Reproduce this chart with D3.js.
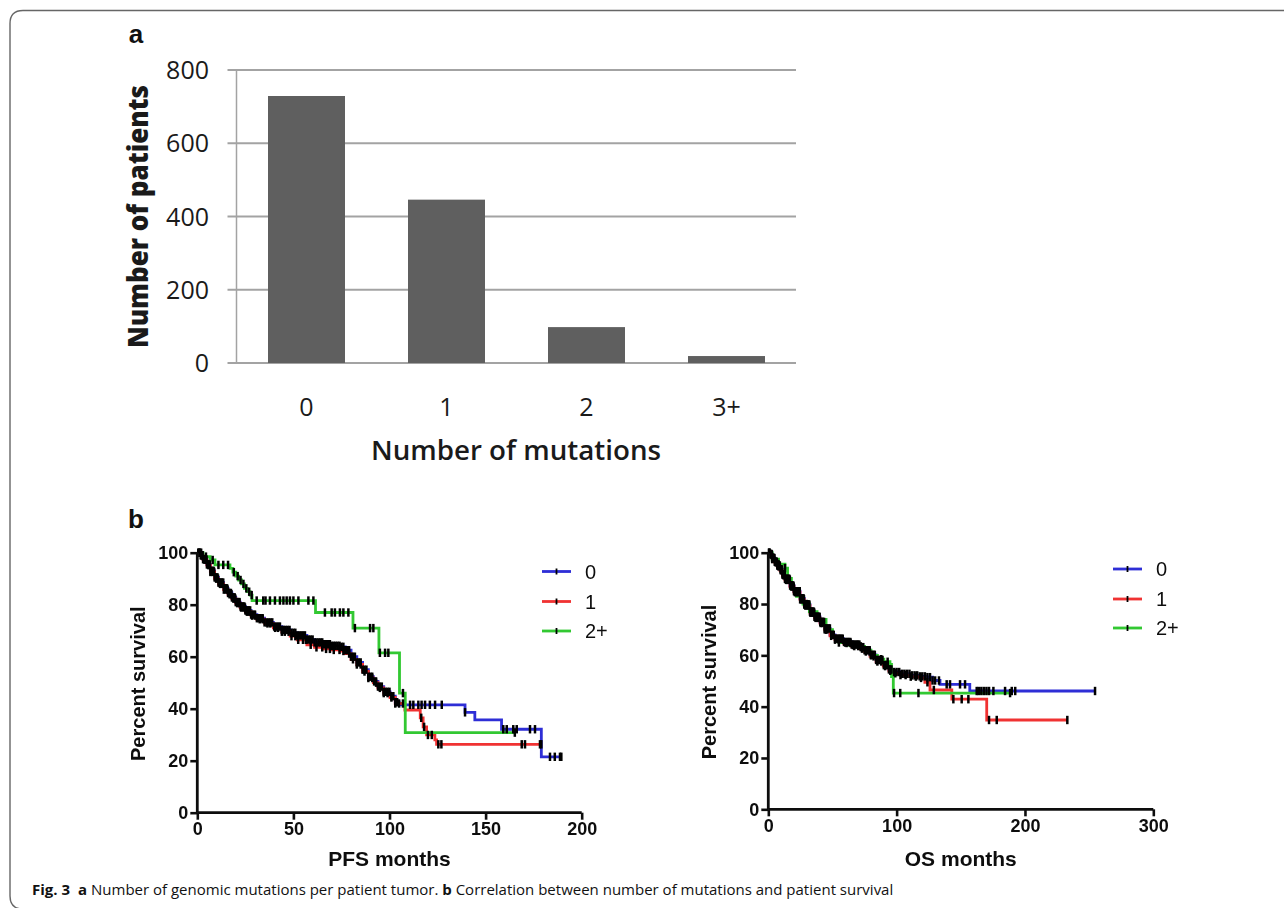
<!DOCTYPE html>
<html>
<head>
<meta charset="utf-8">
<script src="https://cdn.jsdelivr.net/npm/d3@7"></script>
<style>
  html, body { margin: 0; padding: 0; background: #fff; }
  svg { display: block; }
</style>
</head>
<body>
<svg id="fig" width="1284" height="908"></svg>
<script>
// ---- Panel a: patients by number of mutations ----
const barCategories = ["0", "1", "2", "3+"];
const barValues = [729, 446, 98, 19];
const barTicks = [0, 200, 400, 600, 800];

// ---- Panel b: Kaplan–Meier curves, [months, percent surviving] ----
const groupNames = ["0", "1", "2+"];

const pfsSteps0 = [[0,100],[1.6,99],[3,97.5],[5,95.5],[6.8,93],[9,90.5],[11,88.5],[13.7,86.3],[16,84.5],[18,82.8],[20,81],[22.3,79.3],[25,77.8],[28,76.2],[31,74.8],[35,73.2],[39.6,71.6],[44,70.3],[48.3,69.2],[52,68.2],[57,66.6],[61,65.5],[65.6,64.8],[70,64.2],[74.3,63.8],[77,62.5],[80,60],[83,57.8],[86,55],[89,52.3],[91.6,50.5],[94,48.5],[97,46.5],[100.3,44.8],[103,42.5],[105,41.5],[139.3,38.6],[144.4,35.7],[158.3,32.1],[179,21.5],[189.4,21.5]];
const pfsSteps1 = [[0,100],[1.6,99],[3,97.3],[5,95.2],[6.8,92.6],[9,90],[11,88],[13.7,85.8],[16,84],[18,82.3],[20,80.6],[22.3,78.9],[25,77.3],[28,75.8],[31,74.4],[35,72.8],[39.6,71.1],[44,69.6],[48.3,67.9],[52,66.5],[57,64.6],[61,63.6],[65.6,63],[70,62.6],[74.3,62.2],[77,61.2],[80,59],[83,57],[86,54.3],[89,51.8],[91.6,50],[94,48],[97,46],[100.3,44.3],[103,42],[108,39.5],[116,36.5],[117.5,33],[119.3,29.9],[123.6,28],[124.5,26.3],[179,26.3]];
const pfsSteps2 = [[0,100],[3,98.5],[6.7,97.2],[9.2,95.3],[17,94],[18.5,92.5],[20,91],[21.5,89.5],[23,88],[24.5,86.3],[26,85],[27.5,83.7],[28.5,81.6],[61.5,77],[81,71],[94.5,61.5],[105.2,46],[108.2,30.8],[165.2,30.8]];

const pfsCensor0 = [0.5,1,1.5,2,2.5,3,3.5,4,4.5,5,5.5,6,6.5,7,7.5,8,8.5,9,9.5,10,10.5,11,11.5,12,12.5,13,13.5,14,14.5,15,15.5,16,16.5,17,17.5,18,18.5,19,19.5,20,20.5,21,21.5,22,22.5,23,23.5,24,24.5,25,25.5,26,26.5,27,27.5,28,29,30,31,32,33,34,35,36,37,38,39,40,41,42,43,44,45,46,47,48,49,50,51,52,53,54,55,56,57,58,59,60,61,62,63,64,65,66,67,68,69,70,71,72,73,74,75,76,77,78,79,80,81,82,83,84,85,86,87,88,89,90,91,92,93,94,95,96,97,98,99,100,101,102,103,104,110.7,112.4,115,116.7,118.5,121,123.7,127.2,139.3,159.2,161,164.4,166.2,173.1,175.7,183.5,186,188.7,189.4];
const pfsCensor1 = [0.8,1.8,2.8,3.8,4.8,5.8,6.8,7.8,8.8,9.8,10.8,11.8,12.8,13.8,14.8,15.8,16.8,17.8,18.8,19.8,20.8,21.8,22.8,23.8,24.8,25.8,26.8,28.5,30,32.5,34,36.5,38,40.5,42,44,45.5,47.5,49,51,52.5,55,56.5,59,62,65,67,69,71,74,76,79,81,83,85,87,89,91,93,95,97,99,101,103,105,107,116.5,118,120,122,125.4,127,168.8,170.5,178.3,179];
const pfsCensor2 = [2,4.5,8,11,13.5,16,19,21,22.5,24,25.5,27,28.3,30.9,34.3,35.5,37.8,40.4,43,44.8,46.5,48.2,50,52.6,57.8,60.4,66.4,69.9,71.6,74.2,76,78.6,82,89.9,91.6,95,97.7,99.4,107,165.2];

const osSteps0 = [[0,100],[1.3,99.5],[3,98],[5,96.5],[7,95],[9.1,93.5],[11,91.5],[13,89.8],[16.9,87.2],[20,85],[24.7,82.2],[28,79.8],[32.5,77],[36,75],[40.3,73],[44,70.5],[48.1,68],[52,66.5],[58.5,65.2],[65,64.2],[71.5,63.2],[75,62],[79.3,60.2],[84,58.2],[89.6,56.2],[94,54.5],[97.4,53.5],[103,52.8],[110.4,52.2],[118,51.8],[123.5,51.5],[128,50.2],[133.8,48.7],[157,46.1],[254.6,46.1]];
const osSteps1 = [[0,100],[1.3,99.3],[3,97.8],[5,96.2],[7,94.7],[9.1,93.1],[11,91.2],[13,89.4],[16.9,86.8],[20,84.6],[24.7,81.8],[28,79.4],[32.5,76.6],[36,74.6],[40.3,72.6],[44,70.1],[48.1,67.6],[52,66.1],[58.5,64.8],[65,63.6],[71.5,62.6],[75,61.5],[79.3,59.6],[84,57.6],[89.6,55.8],[94,54],[97.4,53],[103,52.3],[110.4,51.7],[118,51.2],[122,49.5],[126,46.5],[143,42.9],[170.2,34.8],[233,34.8]];
const osSteps2 = [[0,100],[3,97.5],[8,95.5],[13,94],[15,90],[18,86],[22,83],[27,80],[32,77],[38,74],[45,70],[50,67],[55,65],[62,64],[70,63.5],[75,62],[80,60],[85,58.5],[90,57.5],[94.8,56.5],[96,51.7],[97.4,45.3],[188.4,45.3]];

const osCensor0 = [0.5,1,1.5,2,2.5,3,3.5,4,4.5,5,5.5,6,6.5,7,7.5,8,8.5,9,9.5,10,10.5,11,11.5,12,12.5,13,13.5,14,14.5,15,15.5,16,16.5,17,17.5,18,18.5,19,19.5,20,20.5,21,21.5,22,22.5,23,23.5,24,24.5,25,25.5,26,26.5,27,27.5,28,28.5,29,29.5,30,30.5,31,31.5,32,32.5,33,33.5,34,34.5,35,35.5,36,36.5,37,37.5,38,38.5,39,39.5,40,40.5,41,41.5,42,42.5,43,43.5,44,45,46,47,48,49,50,51,52,53,54,55,56,57,58,59,60,61,62,63,64,65,66,67,68,69,70,71,72,73,74,75,76,77,78,79,80,81,82,83,84,85,86,87,88,89,90,91,92,93,94,95,96,98,100,102,104,106,108,110,112,114,116,118,120,122,124,126,128,130,133,139,141.6,149.4,153.3,162.4,164,166,168,170,172,175.4,184.5,189.7,192.4,254.6];
const osCensor1 = [0.8,1.8,2.8,3.8,4.8,5.8,6.8,7.8,8.8,9.8,10.8,11.8,12.8,13.8,14.8,15.8,16.8,17.8,18.8,19.8,20.8,21.8,22.8,23.8,24.8,25.8,26.8,27.8,28.8,29.8,30.8,31.8,32.8,33.8,34.8,35.8,36.8,37.8,38.8,39.8,40.8,42,44,46,49,52,55,58,61,64,67,70,73,76,79,82,85,88,91,95,99,103,107,111,115,119,124,129,144.2,150.7,155.9,172,178,233];
const osCensor2 = [3,8,13,20,30,45,55,60,66,72,80,88,93,98,102.8,117,188.4];

const pctTicks = [0, 20, 40, 60, 80, 100];
const pfsTicks = [0, 50, 100, 150, 200];
const osTicks = [0, 100, 200, 300];

const groupColors = ["#2f2fd6", "#f03030", "#30c830"];

const svg = d3.select("#fig");

// Outer figure frame with a rounded corner
svg.append("path")
  .attr("d", "M1300,10.5 H23 Q10,10.5 10,23.5 V896 Q10,909 23,909 H1300")
  .attr("fill", "none").attr("stroke", "#666").attr("stroke-width", 1.4);

// ================= Panel a =================
const barFont = "'Open Sans', 'DejaVu Sans', sans-serif";
const xBar = d3.scaleBand().domain(barCategories).range([236.5, 796.5])
  .paddingInner(0.45).paddingOuter(0.225);
const yBar = d3.scaleLinear().domain([0, 800]).range([363, 70]);

const gA = svg.append("g");
gA.selectAll("line.grid").data(barTicks).join("line")
  .attr("class", "grid")
  .attr("x1", 227.5).attr("x2", 796)
  .attr("y1", d => yBar(d)).attr("y2", d => yBar(d))
  .attr("stroke", "#a3a3a3").attr("stroke-width", 2);
gA.append("line")
  .attr("x1", 236.5).attr("x2", 236.5).attr("y1", yBar(800)).attr("y2", yBar(0))
  .attr("stroke", "#a3a3a3").attr("stroke-width", 1.5);

gA.selectAll("rect.bar").data(barValues).join("rect")
  .attr("class", "bar")
  .attr("x", (d, i) => xBar(barCategories[i]))
  .attr("width", xBar.bandwidth())
  .attr("y", d => yBar(d))
  .attr("height", d => yBar(0) - yBar(d))
  .attr("fill", "#5f5f5f");

gA.selectAll("text.ytick").data(barTicks).join("text")
  .attr("class", "ytick")
  .attr("x", 209).attr("y", d => yBar(d))
  .attr("dy", "0.36em").attr("text-anchor", "end")
  .attr("font-family", barFont).attr("font-size", 25).attr("fill", "#1a1a1a")
  .text(d => d);

gA.selectAll("text.xtick").data(barCategories).join("text")
  .attr("class", "xtick")
  .attr("x", d => xBar(d) + xBar.bandwidth() / 2).attr("y", 407)
  .attr("dy", "0.36em").attr("text-anchor", "middle")
  .attr("font-family", barFont).attr("font-size", 25).attr("fill", "#1a1a1a")
  .text(d => d);

gA.append("text")
  .attr("x", 516).attr("y", 450).attr("dy", "0.36em").attr("text-anchor", "middle")
  .attr("font-family", barFont).attr("font-size", 27).attr("font-weight", 600)
  .attr("fill", "#1a1a1a").attr("textLength", 290).attr("lengthAdjust", "spacingAndGlyphs")
  .text("Number of mutations");

gA.append("text")
  .attr("transform", "translate(138,216.5) rotate(-90)")
  .attr("dy", "0.36em").attr("text-anchor", "middle")
  .attr("font-family", barFont).attr("font-size", 28).attr("font-weight", 800)
  .attr("fill", "#1a1a1a").attr("textLength", 263).attr("lengthAdjust", "spacingAndGlyphs")
  .text("Number of patients");

svg.append("text").attr("x", 136).attr("y", 34).attr("dy", "0.36em")
  .attr("text-anchor", "middle")
  .attr("font-family", "'Liberation Sans', Arial, sans-serif")
  .attr("font-size", 26).attr("font-weight", 700).attr("fill", "#111").text("a");
svg.append("text").attr("x", 136).attr("y", 519).attr("dy", "0.36em")
  .attr("text-anchor", "middle")
  .attr("font-family", "'Liberation Sans', Arial, sans-serif")
  .attr("font-size", 26).attr("font-weight", 700).attr("fill", "#111").text("b");

// ================= Panel b =================
const kmFont = "'Liberation Sans', Arial, sans-serif";

// soft edges of the survival plots
const defs = svg.append("defs");
defs.append("filter").attr("id", "soft")
  .append("feGaussianBlur").attr("stdDeviation", 0.45);

function survivalAt(steps, t) {
  const i = d3.bisector(d => d[0]).right(steps, t) - 1;
  return steps[Math.max(0, i)][1];
}

function kmPanel(cfg) {
  const x = d3.scaleLinear().domain(cfg.xDomain).range(cfg.xRange);
  const y = d3.scaleLinear().domain([0, 100]).range(cfg.yRange);
  const g = svg.append("g").attr("filter", "url(#soft)");

  const line = d3.line().x(d => x(d[0])).y(d => y(d[1])).curve(d3.curveStepAfter);
  cfg.steps.forEach((s, i) => {
    g.append("path").datum(s).attr("d", line)
      .attr("fill", "none").attr("stroke", groupColors[i]).attr("stroke-width", 2.8);
  });
  cfg.censor.forEach((c, i) => {
    g.selectAll(null).data(c).join("line")
      .attr("x1", t => x(t)).attr("x2", t => x(t))
      .attr("y1", t => y(survivalAt(cfg.steps[i], t)) - 4.2)
      .attr("y2", t => y(survivalAt(cfg.steps[i], t)) + 4.2)
      .attr("stroke", "#000").attr("stroke-width", 2.5);
  });

  const xAxis = d3.axisBottom(x).tickValues(cfg.xTicks).tickSize(7).tickPadding(3);
  const yAxis = d3.axisLeft(y).tickValues(pctTicks).tickSize(7).tickPadding(2);
  const gx = g.append("g").attr("transform", `translate(0,${cfg.yRange[0]})`).call(xAxis);
  const gy = g.append("g").attr("transform", `translate(${cfg.xRange[0]},0)`).call(yAxis);
  [gx, gy].forEach(a => {
    a.select(".domain").attr("stroke", "#111").attr("stroke-width", 2.8);
    a.selectAll(".tick line").attr("stroke", "#111").attr("stroke-width", 2.6);
    a.selectAll(".tick text").attr("font-family", kmFont).attr("font-size", 18)
      .attr("font-weight", 700).attr("fill", "#111");
  });
  gx.select(".domain").attr("d", `M${cfg.xRange[0]},0H${cfg.xRange[1]}`);
  gy.select(".domain").attr("d", `M0,${cfg.yRange[0]}V${cfg.yRange[1]}`);

  g.append("text")
    .attr("transform", `translate(${cfg.yTitleX},${(cfg.yRange[0] + cfg.yRange[1]) / 2 + 1}) rotate(-90)`)
    .attr("dy", "0.36em").attr("text-anchor", "middle")
    .attr("font-family", kmFont).attr("font-size", 20).attr("font-weight", 700).attr("fill", "#111")
    .text("Percent survival");
  g.append("text")
    .attr("x", (cfg.xRange[0] + cfg.xRange[1]) / 2).attr("y", 858).attr("dy", "0.36em")
    .attr("text-anchor", "middle")
    .attr("font-family", kmFont).attr("font-size", 21).attr("font-weight", 700).attr("fill", "#111")
    .text(cfg.xTitle);

  // legend
  const lg = g.append("g");
  groupNames.forEach((name, i) => {
    const ly = cfg.legendY[i];
    lg.append("line").attr("x1", cfg.legendX).attr("x2", cfg.legendX + 29)
      .attr("y1", ly).attr("y2", ly).attr("stroke", groupColors[i]).attr("stroke-width", 2.8);
    lg.append("line").attr("x1", cfg.legendX + 14.5).attr("x2", cfg.legendX + 14.5)
      .attr("y1", ly - 3).attr("y2", ly + 3).attr("stroke", "#000").attr("stroke-width", 1.8);
    lg.append("text").attr("x", cfg.legendX + 43).attr("y", ly).attr("dy", "0.36em")
      .attr("font-family", kmFont).attr("font-size", 20).attr("fill", "#111").text(name);
  });
}

kmPanel({
  xDomain: [0, 200], xRange: [197.3, 581.7], yRange: [812.7, 552.7],
  xTicks: pfsTicks, steps: [pfsSteps0, pfsSteps1, pfsSteps2],
  censor: [pfsCensor0, pfsCensor1, pfsCensor2],
  yTitleX: 138, xTitle: "PFS months",
  legendX: 542, legendY: [571.5, 601.5, 631]
});
kmPanel({
  xDomain: [0, 300], xRange: [768.3, 1153.3], yRange: [809.3, 552.7],
  xTicks: osTicks, steps: [osSteps0, osSteps1, osSteps2],
  censor: [osCensor0, osCensor1, osCensor2],
  yTitleX: 709, xTitle: "OS months",
  legendX: 1113, legendY: [569, 599, 628]
});

// ================= Caption =================
const cap = svg.append("text").attr("x", 32).attr("y", 895)
  .attr("font-family", "'Open Sans', 'Noto Sans', sans-serif").attr("font-size", 15)
  .attr("fill", "#111");
cap.append("tspan").attr("font-weight", 700).text("Fig. 3");
cap.append("tspan").attr("font-weight", 700).attr("dx", 8).text("a");
cap.append("tspan").text(" Number of genomic mutations per patient tumor. ");
cap.append("tspan").attr("font-weight", 700).text("b");
cap.append("tspan").text(" Correlation between number of mutations and patient survival");
</script>
</body>
</html>
